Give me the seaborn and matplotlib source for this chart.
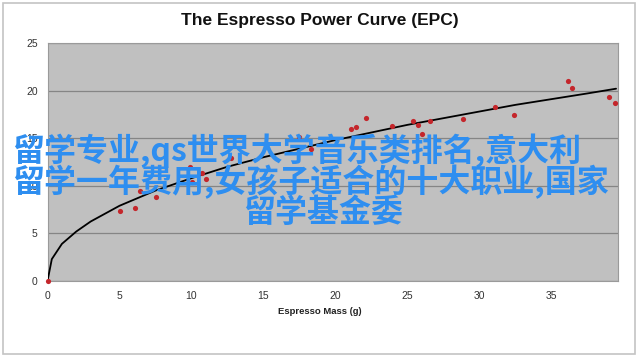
import numpy as np
import pandas as pd
import matplotlib
matplotlib.use("Agg")
import matplotlib.pyplot as plt
from matplotlib.patches import Rectangle
import seaborn as sns

# ------------------------------------------------------------
# Data
# ------------------------------------------------------------
shot_mass = [0, 5.05, 6.07, 6.44, 7.54, 9.9, 10.06, 10.75, 10.98, 12.73,
             17.44, 18.32, 21.09, 21.43, 22.12, 23.92, 25.4, 25.72, 26.0,
             26.57, 28.88, 31.12, 32.39, 36.15, 36.47, 39.03, 39.45]
shot_power = [0, 7.38, 7.69, 9.41, 8.81, 12.0, 10.39, 11.3, 10.67, 12.87,
              15.08, 13.82, 15.92, 16.13, 17.13, 16.33, 16.82, 16.4, 15.46,
              16.79, 16.97, 18.29, 17.42, 20.99, 20.25, 19.34, 18.71]

curve_mass = [0, 0.3, 1, 2, 3, 5, 7.5, 10, 12.5, 15, 17.5, 20, 22.5, 25,
              27.5, 30, 32.5, 35, 37.5, 39.5]
curve_power = [0, 2.3, 3.9, 5.2, 6.25, 7.9, 9.5, 10.8, 12.0, 13.0, 13.9,
               14.8, 15.6, 16.4, 17.1, 17.8, 18.5, 19.1, 19.7, 20.2]

x_ticks = [0, 5, 10, 15, 20, 25, 30, 35]
y_ticks = [0, 5, 10, 15, 20, 25]

title = "The Espresso Power Curve (EPC)"
x_label = "Espresso Mass (g)"
overlay_lines = ["留学专业,qs世界大学音乐类排名,意大利",
                 "留学一年费用,女孩子适合的十大职业,国家",
                 "留学基金委"]

shots = pd.DataFrame({"mass": shot_mass, "power": shot_power})
curve = pd.DataFrame({"mass": curve_mass, "power": curve_power})

# ------------------------------------------------------------
# Style
# ------------------------------------------------------------
sns.set_style("white")
plt.rcParams["font.family"] = ["Liberation Sans", "DejaVu Sans"]

W, H = 640, 358
fig = plt.figure(figsize=(W / 100, H / 100), dpi=100)

# outer chart border
fig.patches.append(Rectangle((3 / W, 4 / H), 632 / W, 351 / H,
                             transform=fig.transFigure, fill=False,
                             edgecolor="#c4c4c4", linewidth=1.2))

ax = fig.add_axes([47.5 / W, 1 - 281 / H, 570 / W, 238 / H])
ax.set_facecolor("#c0c0c0")

sns.lineplot(data=curve, x="mass", y="power", color="black",
             linewidth=1.3, ax=ax, zorder=3)
sns.scatterplot(data=shots, x="mass", y="power", color="#c4262b",
                s=14, linewidth=0, ax=ax, zorder=4, clip_on=False)

ax.set_xlim(0, 39.6)
ax.set_ylim(0, 25)
ax.set_xticks(x_ticks)
ax.set_yticks(y_ticks)
ax.yaxis.grid(True, color="#858585", linewidth=0.9)
ax.set_axisbelow(True)
for sp in ax.spines.values():
    sp.set_color("#9a9a9a")
    sp.set_linewidth(0.8)

ax.tick_params(axis="x", length=3, width=0.6, color="#888888",
               labelsize=7.5, labelcolor="#333333", pad=4)
ax.tick_params(axis="y", length=0, labelsize=7.5, labelcolor="#333333",
               pad=7)
ax.set_xlabel("")
ax.set_ylabel("")

fig.text(0.5, 1 - 20 / H, title, ha="center", va="center",
         fontsize=12.5, fontweight="bold", color="#111111")
fig.text(0.5, 1 - 312 / H, x_label, ha="center", va="center",
         fontsize=6.8, fontweight="bold", color="#222222")

# overlaid caption text
cjk = ["Noto Sans CJK SC", "DejaVu Sans"]
fig.text(12 / W, 1 - 151 / H, overlay_lines[0], ha="left", va="center",
         fontsize=23, fontweight="bold", color="#2e8ef0", family=cjk)
fig.text(12 / W, 1 - 182 / H, overlay_lines[1], ha="left", va="center",
         fontsize=23, fontweight="bold", color="#2e8ef0", family=cjk)
fig.text(323 / W, 1 - 213 / H, overlay_lines[2], ha="center", va="center",
         fontsize=23, fontweight="bold", color="#2e8ef0", family=cjk)

fig.savefig("out.png", dpi=100)
